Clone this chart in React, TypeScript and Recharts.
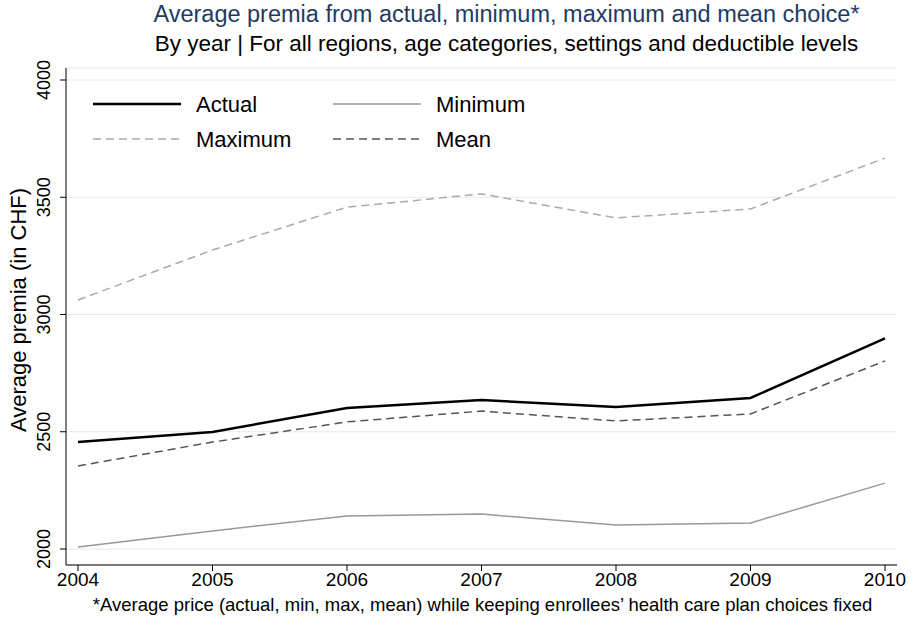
import * as React from "react";
import { LineChart, Line, XAxis, YAxis, CartesianGrid } from "recharts";

const years = [2004, 2005, 2006, 2007, 2008, 2009, 2010];
const actual = [2456, 2499, 2601, 2635, 2606, 2644, 2898];
const minimum = [2009, 2077, 2141, 2149, 2102, 2111, 2281];
const maximum = [3062, 3275, 3458, 3514, 3412, 3450, 3667];
const mean = [2354, 2456, 2542, 2588, 2546, 2576, 2802];
const yTicks = [2000, 2500, 3000, 3500, 4000];

const data = years.map((y, i) => ({
  year: y,
  actual: actual[i],
  minimum: minimum[i],
  maximum: maximum[i],
  mean: mean[i],
}));

const font = "Liberation Sans, Arial, sans-serif";

const legendItems = [
  { label: "Actual", color: "#000", width: 2.5, dash: "", x: 93, y: 104 },
  { label: "Minimum", color: "#999", width: 1.5, dash: "", x: 333, y: 104 },
  { label: "Maximum", color: "#aaa", width: 1.5, dash: "8 5", x: 93, y: 139 },
  { label: "Mean", color: "#555", width: 1.5, dash: "8 5", x: 333, y: 139 },
];

const YTick = (props: any) => {
  const { x, y, payload } = props;
  const tx = x - 8;
  return (
    <text x={tx} y={y} transform={`rotate(-90 ${tx} ${y})`} textAnchor="middle"
      fontSize={18} fontFamily={font} fill="#000">
      {payload.value}
    </text>
  );
};

const center: React.CSSProperties = { position: "absolute", width: 913, textAlign: "center", whiteSpace: "nowrap", lineHeight: 1 };

export default function App() {
  return (
    <div style={{ position: "absolute", left: 0, top: 0, width: 913, height: 635, background: "#fff", fontFamily: font }}>
      <div style={{ ...center, left: 50, top: 3, fontSize: 23.5, color: "#1f3b64" }}>
        Average premia from actual, minimum, maximum and mean choice*
      </div>
      <div style={{ ...center, left: 50, top: 33, fontSize: 22.5, color: "#000" }}>
        By year | For all regions, age categories, settings and deductible levels
      </div>
      <div style={{ ...center, left: 26, top: 596, fontSize: 18.5, color: "#000" }}>
        *Average price (actual, min, max, mean) while keeping enrollees’ health care plan choices fixed
      </div>
      <div style={{ position: "absolute", left: 19, top: 310, transform: "translate(-50%,-50%) rotate(-90deg)", fontSize: 22, whiteSpace: "nowrap" }}>
        Average premia (in CHF)
      </div>
      <LineChart width={913} height={635} data={data}
        margin={{ top: 68, right: 16, bottom: 40, left: 0 }}
        style={{ position: "absolute", left: 0, top: 0 }}>
        <CartesianGrid vertical={false} stroke="#e8e8e8" />
        <XAxis dataKey="year" type="number" domain={[2004, 2010]} ticks={years}
          padding={{ left: 12, right: 12 }} stroke="#000" tickSize={6}
          tick={{ fontSize: 19, fill: "#000", fontFamily: font }} />
        <YAxis domain={[2000, 4000]} ticks={yTicks} width={66} stroke="#000" tickSize={6}
          padding={{ top: 12, bottom: 16 }} tick={<YTick />} />
        <Line dataKey="maximum" stroke="#aaa" strokeWidth={1.5} strokeDasharray="8 5" dot={false} isAnimationActive={false} />
        <Line dataKey="mean" stroke="#555" strokeWidth={1.5} strokeDasharray="8 5" dot={false} isAnimationActive={false} />
        <Line dataKey="minimum" stroke="#999" strokeWidth={1.5} dot={false} isAnimationActive={false} />
        <Line dataKey="actual" stroke="#000" strokeWidth={2.5} dot={false} isAnimationActive={false} />
      </LineChart>
      <svg width={913} height={635} style={{ position: "absolute", left: 0, top: 0, pointerEvents: "none" }}>
        {legendItems.map((it) => (
          <g key={it.label}>
            <line x1={it.x} x2={it.x + 88} y1={it.y} y2={it.y} stroke={it.color} strokeWidth={it.width} strokeDasharray={it.dash} />
            <text x={it.x + 103} y={it.y + 8} fontSize={22} fontFamily={font}>{it.label}</text>
          </g>
        ))}
      </svg>
    </div>
  );
}
